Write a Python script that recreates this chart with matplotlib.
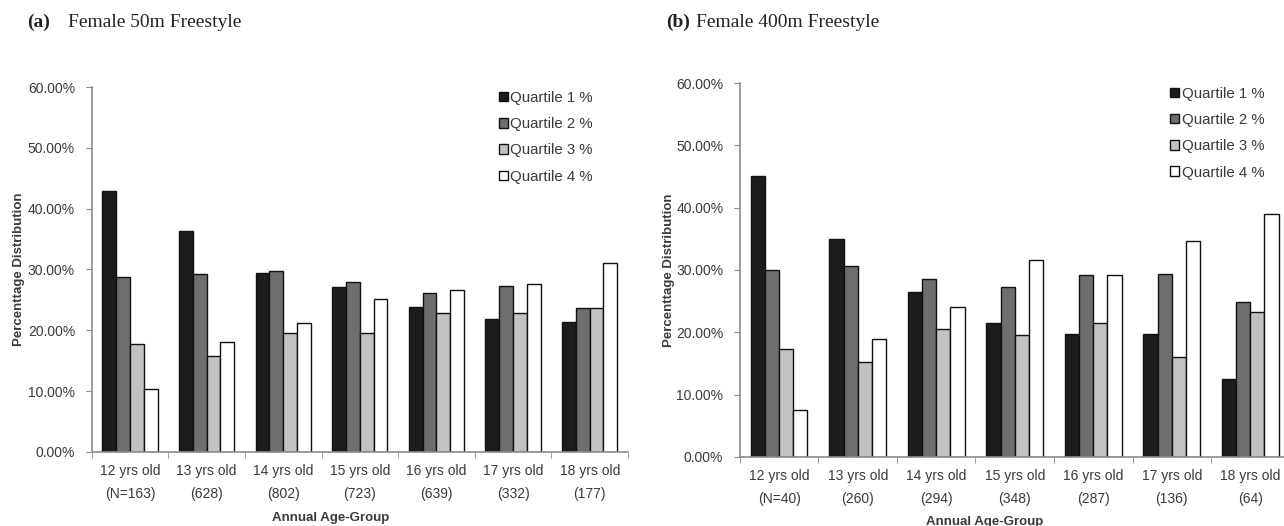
import numpy as np
import matplotlib
matplotlib.use("Agg")
import matplotlib.pyplot as plt
from matplotlib.patches import Patch

# Age groups and sample sizes
ages = ['12 yrs old', '13 yrs old', '14 yrs old', '15 yrs old',
        '16 yrs old', '17 yrs old', '18 yrs old']
n_50 = ['(N=163)', '(628)', '(802)', '(723)', '(639)', '(332)', '(177)']
n_400 = ['(N=40)', '(260)', '(294)', '(348)', '(287)', '(136)', '(64)']

# Percentage distribution per quartile, 50m freestyle
q1_50 = [42.9, 36.4, 29.5, 27.1, 23.9, 21.9, 21.4]
q2_50 = [28.8, 29.3, 29.7, 28.0, 26.2, 27.3, 23.6]
q3_50 = [17.8, 15.8, 19.5, 19.6, 22.8, 22.8, 23.6]
q4_50 = [10.4, 18.1, 21.2, 25.2, 26.6, 27.6, 31.0]

# Percentage distribution per quartile, 400m freestyle
q1_400 = [45.0, 35.0, 26.5, 21.5, 19.8, 19.8, 12.5]
q2_400 = [30.0, 30.7, 28.6, 27.3, 29.2, 29.4, 24.9]
q3_400 = [17.4, 15.3, 20.6, 19.5, 21.5, 16.1, 23.3]
q4_400 = [7.6, 18.9, 24.1, 31.6, 29.2, 34.6, 39.0]

labels = ['Quartile 1 %', 'Quartile 2 %', 'Quartile 3 %', 'Quartile 4 %']
colors = ['#1c1c1c', '#6e6e6e', '#c2c2c2', '#ffffff']

plt.rcParams['font.family'] = ['Liberation Sans', 'DejaVu Sans']
grey = '#8c8c8c'
txt = '#3a3a3a'

fig = plt.figure(figsize=(12.84, 5.26), dpi=100)


def draw(ax, series, ns, xlab_y):
    x = np.arange(len(ages))
    w = 0.18
    for i, vals in enumerate(series):
        ax.bar(x + (i - 1.5) * w, vals, w, color=colors[i],
               edgecolor='#111111', linewidth=1.0)
    ax.set_xlim(-0.5, 6.5)
    ax.set_ylim(0, 60)
    ax.set_yticks(np.arange(0, 61, 10))
    ax.set_yticklabels([f'{v:.2f}%' for v in np.arange(0, 61, 10)])
    ax.set_xticks(x)
    ax.set_xticklabels([a + '\n' + n for a, n in zip(ages, ns)],
                       linespacing=1.75)
    ax.set_xticks(np.arange(-0.5, 7, 1), minor=True)
    ax.tick_params(axis='x', which='major', length=0, pad=9,
                   labelsize=10, labelcolor=txt)
    ax.tick_params(axis='x', which='minor', length=4, color=grey)
    ax.tick_params(axis='y', length=4, color=grey, pad=8,
                   labelsize=10, labelcolor=txt)
    for s in ['top', 'right']:
        ax.spines[s].set_visible(False)
    for s in ['left', 'bottom']:
        ax.spines[s].set_color(grey)
        ax.spines[s].set_linewidth(1.2)
    ax.set_ylabel('Percenttage Distribution', fontsize=9.5,
                  fontweight='bold', color=txt)
    ax.set_xlabel('Annual Age-Group', fontsize=9.5, fontweight='bold',
                  color=txt)
    ax.xaxis.set_label_coords(0.445, xlab_y)


# (a) Female 50m Freestyle
ax1 = fig.add_axes([0.0714, 0.1407, 0.4177, 0.6939])
draw(ax1, [q1_50, q2_50, q3_50, q4_50], n_50, -0.165)
ax1.yaxis.set_label_coords(-0.124, 0.5)

# (b) Female 400m Freestyle
ax2 = fig.add_axes([0.5763, 0.1312, 0.428, 0.711])
draw(ax2, [q1_400, q2_400, q3_400, q4_400], n_400, -0.158)
ax2.yaxis.set_label_coords(-0.118, 0.5)

handles = [Patch(facecolor=c, edgecolor='#111111', linewidth=1.0)
           for c in colors]
for bx, by in [(0.378, 0.853), (0.901, 0.861)]:
    fig.legend(handles, labels, loc='upper left', bbox_to_anchor=(bx, by),
               frameon=False, fontsize=10.8, handlelength=0.6,
               handleheight=0.6, handletextpad=0.15, labelspacing=0.82,
               labelcolor=txt)

fig.text(0.021, 0.958, '(a)', family='Liberation Serif', fontsize=14,
         fontweight='bold', va='center', color='#222222')
fig.text(0.053, 0.958, 'Female 50m Freestyle', family='Liberation Serif',
         fontsize=14, va='center', color='#222222')
fig.text(0.519, 0.958, '(b)', family='Liberation Serif', fontsize=14,
         fontweight='bold', va='center', color='#222222')
fig.text(0.542, 0.958, 'Female 400m Freestyle', family='Liberation Serif',
         fontsize=14, va='center', color='#222222')

fig.savefig('out.png', dpi=100)
